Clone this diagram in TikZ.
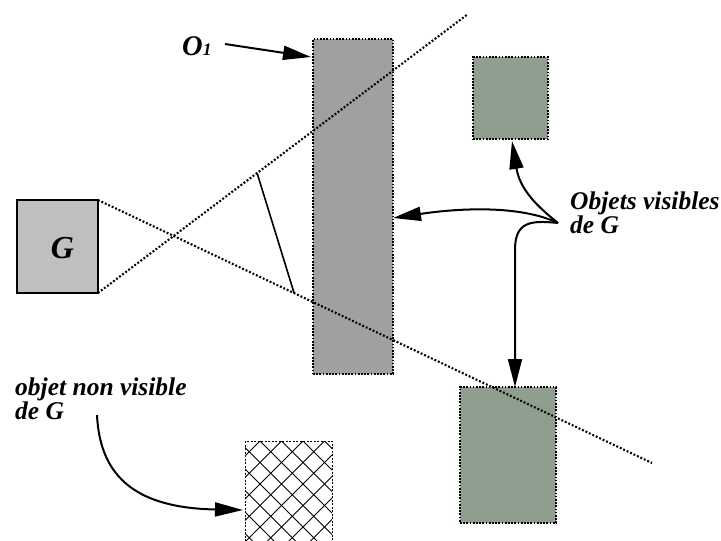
\documentclass[tikz,border=0pt]{standalone}
\usepackage{fontspec}
\setmainfont{Liberation Serif}
\usetikzlibrary{arrows.meta,calc}
\definecolor{gboxfill}{RGB}{191,191,191}
\definecolor{ofill}{RGB}{160,160,160}
\definecolor{greenfill}{RGB}{143,158,143}
\begin{document}
\begin{tikzpicture}[x=1pt,y=-1pt,
  dotline/.style={line width=2.1pt,dash pattern=on 1.9pt off 1.9pt},
  dotbox/.style={draw,line width=2pt,dash pattern=on 1.7pt off 1.5pt,inner sep=0pt,outer sep=0pt},
  arr/.style={line width=2pt,-{Triangle[length=28pt,width=14pt]}},
  lab/.style={inner sep=0pt,anchor=north west,align=left,font=\fontsize{25.5}{21.5}\selectfont\bfseries\itshape}]
\useasboundingbox (0,0) rectangle (721,541);
\clip (0,0) rectangle (721,541);

% boxes
\node[draw,line width=1.6pt,fill=gboxfill,minimum width=81pt,minimum height=93pt,inner sep=0pt,outer sep=0pt] (G) at (57.5,246.5) {};
\node[inner sep=0pt,font=\fontsize{32}{32}\selectfont\bfseries\itshape] (Gl) at (62.5,248.5) {G};
\node[dotbox,fill=ofill,minimum width=80pt,minimum height=335pt] (O1) at (353,206.5) {};
\node[dotbox,fill=greenfill,minimum width=75pt,minimum height=82pt] (V1) at (510.5,98) {};
\node[dotbox,fill=greenfill,minimum width=96pt,minimum height=136pt] (V2) at (508,455) {};

% hatched box
\node[inner sep=0pt,outer sep=0pt,minimum width=87pt,minimum height=104pt] (H) at (288.5,493) {};
\begin{scope}
  \clip (H.north west) rectangle (H.south east);
  \foreach \k in {-6,...,4} \draw[line width=0.8pt] (200,{381-21.5*\k}) -- (400,{581-21.5*\k});
  \foreach \k in {-1,...,9} \draw[line width=0.8pt] (200,{501+21.5*\k}) -- (400,{301+21.5*\k});
\end{scope}
\draw[line width=0.8pt,dash pattern=on 2pt off 1.5pt] (H.north west) rectangle (H.south east);

% sight lines
\coordinate (L1end) at (652,463);
\coordinate (L2end) at (468,14);
\draw[dotline] (G.north east) -- (L1end);
\draw[dotline] (G.south east) -- (L2end);
\coordinate (S1) at ($(G.south east)!0.43!(L2end)$);
\coordinate (S2) at ($(G.north east)!0.354!(L1end)$);
\draw[line width=1.6pt] (S1) -- (S2);

% O1 label
\node[inner sep=0pt,anchor=base west,font=\fontsize{28.5}{28.5}\selectfont\bfseries\itshape] (O1l) at (182,55) {O{\fontsize{17.5}{17.5}\selectfont 1}};
\coordinate (O1from) at (225,44);
\draw[arr] (O1from) -- ($(O1.north west)+(-2,18)$);

% visible objects
\node[lab] (vis) at (570,191.5) {Objets visibles\\de G};
\coordinate (vstart) at (558,223);
\draw[arr] (vstart) .. controls (520,205) and (460,208) .. ($(O1.east)+(0,11.5)$);
\draw[arr] (vstart) .. controls (538,207) and (520,190) .. ($(V1.south)+(1.5,2)$);
\draw[arr] (vstart) .. controls (530,220) and (515,222) .. (515,250) -- ($(V2.north)+(7,0)$);

% non visible object
\node[lab] (nv) at (15,377.5) {objet non visible\\de G};
\coordinate (nvstart) at (97,415);
\draw[arr] (nvstart) .. controls (100,480) and (140,508) .. ($(H.west)+(-2,17)$);
\end{tikzpicture}
\end{document}
